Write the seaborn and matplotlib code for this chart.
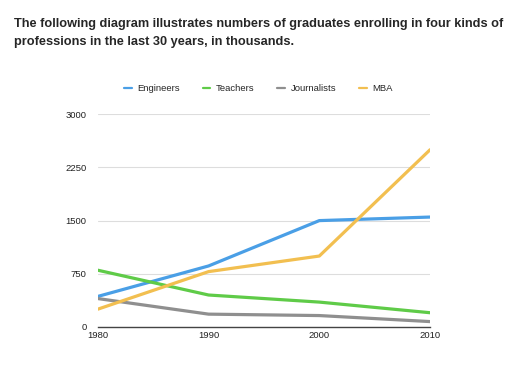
import pandas as pd
import matplotlib.pyplot as plt
import seaborn as sns

years = [1980, 1990, 2000, 2010]
engineers = [430, 860, 1500, 1550]
teachers = [800, 450, 350, 200]
journalists = [400, 180, 160, 75]
mba = [250, 780, 1000, 2500]

series = ['Engineers', 'Teachers', 'Journalists', 'MBA']
colors = ['#4a9fe6', '#5fcb48', '#8f8f8f', '#f2bf50']

df = pd.DataFrame({'year': years * 4,
                   'value': engineers + teachers + journalists + mba,
                   'series': sum([[s] * 4 for s in series], [])})

sns.set_style('white')
plt.rcParams['font.family'] = ['Liberation Sans', 'DejaVu Sans']

fig = plt.figure(figsize=(5.12, 3.81), dpi=100)
ax = fig.add_axes([0.191, 0.142, 0.649, 0.558])

sns.lineplot(data=df, x='year', y='value', hue='series', palette=colors,
             linewidth=2.3, ax=ax, legend=False)

ax.set_xlim(1980, 2010)
ax.set_ylim(0, 3000)
ax.set_xticks(years)
ax.set_yticks([0, 750, 1500, 2250, 3000])
ax.tick_params(axis='both', labelsize=6.8, length=0, colors='#222222')
ax.tick_params(axis='y', pad=8)
ax.tick_params(axis='x', pad=3)
ax.grid(axis='y', color='#dddddd', linewidth=0.8)
ax.set_axisbelow(True)
for side in ['top', 'right', 'left']:
    ax.spines[side].set_visible(False)
ax.spines['bottom'].set_color('#444444')
ax.spines['bottom'].set_linewidth(1)
ax.set_xlabel('')
ax.set_ylabel('')

# legend across the top
handles = [plt.Line2D([], [], color=c, linewidth=1.6) for c in colors]
fig.legend(handles, series, loc='center', bbox_to_anchor=(0.505, 0.768), ncol=4,
           frameon=False, fontsize=6.8, handlelength=0.8, columnspacing=2.4,
           handletextpad=0.6)

fig.text(0.027, 0.953, 'The following diagram illustrates numbers of graduates enrolling in four kinds of\n'
         'professions in the last 30 years, in thousands.',
         fontsize=9.2, fontweight='bold', va='top', ha='left', linespacing=1.7)

fig.savefig('out.png', dpi=100)
